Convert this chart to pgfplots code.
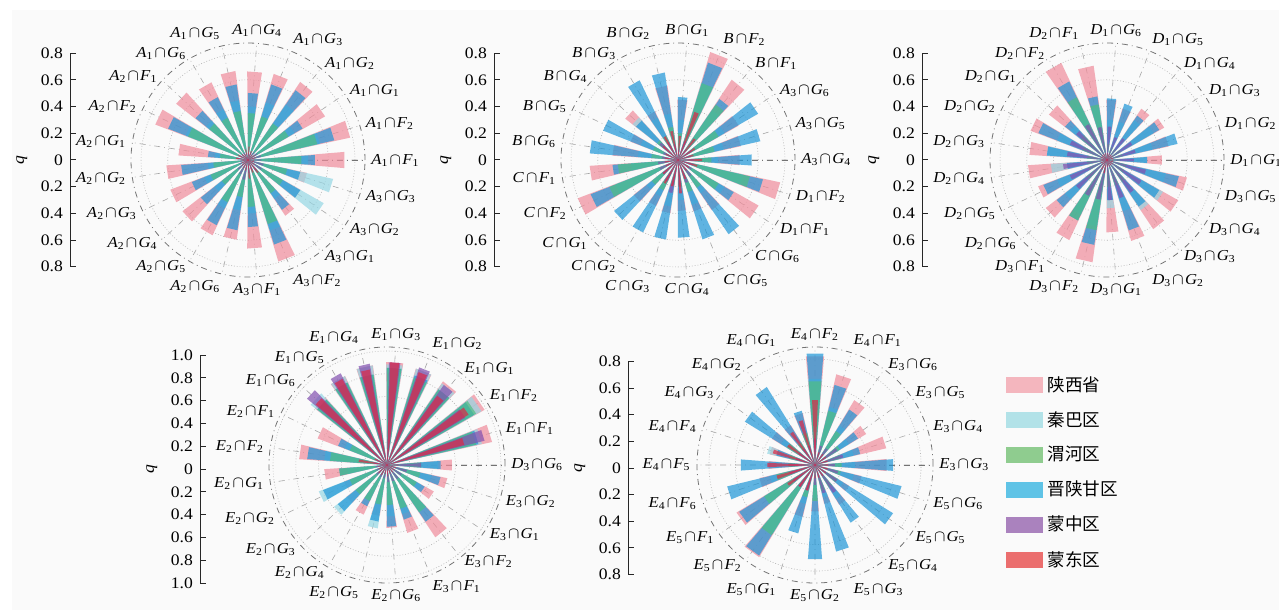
\documentclass[border=0pt]{standalone}
\usepackage{pgfplots}
\pgfplotsset{compat=1.18}
\usepackage{pgfplotstable}
\usepgfplotslibrary{polar}
\usepackage{fontspec}
\setmainfont[FakeStretch=1.1]{Liberation Serif}
\newfontfamily\cjk{Noto Sans CJK SC}

\definecolor{cP}{RGB}{240,140,155}
\definecolor{cLC}{RGB}{150,215,228}
\definecolor{cG}{RGB}{80,190,130}
\definecolor{cB}{RGB}{30,150,215}
\definecolor{cPu}{RGB}{130,80,175}
\definecolor{cR}{RGB}{220,40,70}
\definecolor{lP}{RGB}{244,182,190}
\definecolor{lLC}{RGB}{178,226,232}
\definecolor{lG}{RGB}{143,204,143}
\definecolor{lB}{RGB}{95,195,230}
\definecolor{lPu}{RGB}{170,130,190}
\definecolor{lR}{RGB}{235,110,110}
\definecolor{bgc}{RGB}{250,250,250}

\newcommand\lb[4]{\textit{#1}\textsubscript{#2}\kern0.08em$\cap$\kern0.08em\textit{#3}\textsubscript{#4}}
\def\angA{0,17.143,34.286,51.429,68.571,85.714,102.857,120,137.143,154.286,171.429,188.571,205.714,222.857,240,257.143,274.286,291.429,308.571,325.714,342.857}
\def\angB{0,18,36,54,72,90,108,126,144,162,180,198,216,234,252,270,288,306,324,342}

% anchor of a category label from its angle
\newcommand\setanch[1]{%
  \pgfkeys{/pgf/fpu=false}%
  \pgfmathtruncatemacro\hx{cos(#1)>0.1 ? 1 : (cos(#1)<-0.1 ? 2 : 0)}%
  \pgfmathtruncatemacro\vy{sin(#1)>0.9 ? 1 : (sin(#1)<-0.9 ? 2 : 0)}%
  \ifcase\vy\space
    \ifcase\hx\space \gdef\myanch{center}\or \gdef\myanch{west}\or \gdef\myanch{east}\fi
  \or
    \ifcase\hx\space \gdef\myanch{south}\or \gdef\myanch{south west}\or \gdef\myanch{south east}\fi
  \or
    \ifcase\hx\space \gdef\myanch{north}\or \gdef\myanch{north west}\or \gdef\myanch{north east}\fi
  \fi}

% one bar = a thin sector from the centre to the data point
\pgfdeclareplotmark{empty}{}
\newcommand\drawwedge[3]{%
  \pgfscope
  \pgfkeys{/pgf/fpu=false}%
  \pgftransformrotate{\vAng}%
  \pgfpathmoveto{\pgfpoint{-\vRad*\runit pt}{0pt}}%
  \pgfpathlineto{\pgfpoint{0pt}{\vRad*\runit*#3 pt}}%
  \pgfpathlineto{\pgfpoint{0pt}{-\vRad*\runit*#3 pt}}%
  \pgfpathclose
  \pgfsetfillcolor{#1}\pgfsetfillopacity{#2}%
  \pgfusepath{fill}%
  \endpgfscope}

\pgfplotstableread{
a P LC G B Pu R
0 0.72 0.45 0.40 0.50 0.10 0.05
17.143 0.78 0.55 0.53 0.66 0.10 0.06
34.286 0.66 0.40 0.35 0.47 0.08 0.06
51.429 0.70 0.50 0.33 0.63 0.07 0.05
68.571 0.67 0.45 0.34 0.59 0.06 0.07
85.714 0.66 0.40 0.35 0.50 0.05 0.10
102.857 0.67 0.45 0.37 0.57 0.05 0.08
120 0.64 0.42 0.35 0.52 0.06 0.05
137.143 0.68 0.40 0.37 0.50 0.06 0.06
154.286 0.74 0.50 0.48 0.64 0.07 0.08
171.429 0.52 0.25 0.21 0.30 0.08 0.09
188.571 0.61 0.30 0.26 0.50 0.06 0.05
205.714 0.62 0.35 0.30 0.45 0.07 0.05
222.857 0.62 0.32 0.25 0.45 0.10 0.06
240 0.62 0.40 0.35 0.54 0.12 0.07
257.143 0.60 0.38 0.28 0.53 0.15 0.08
274.286 0.66 0.40 0.35 0.50 0.10 0.14
291.429 0.79 0.55 0.50 0.66 0.08 0.10
308.571 0.50 0.35 0.30 0.45 0.10 0.12
325.714 0.45 0.65 0.30 0.45 0.12 0.06
342.857 0.45 0.65 0.30 0.40 0.12 0.05
}\tA

\pgfplotstableread{
a P LC G B Pu R
0 0.46 0.30 0.25 0.55 0.12 0.18
17.143 0.48 0.35 0.28 0.63 0.10 0.12
34.286 0.52 0.40 0.35 0.69 0.12 0.15
51.429 0.72 0.45 0.50 0.55 0.10 0.20
68.571 0.84 0.60 0.60 0.76 0.15 0.38
85.714 0.45 0.30 0.20 0.47 0.08 0.18
102.857 0.56 0.35 0.25 0.66 0.12 0.22
120 0.40 0.35 0.20 0.66 0.15 0.20
137.143 0.50 0.43 0.20 0.40 0.18 0.15
154.286 0.38 0.30 0.20 0.60 0.12 0.10
171.429 0.49 0.30 0.20 0.66 0.12 0.10
188.571 0.66 0.35 0.45 0.49 0.15 0.10
205.714 0.80 0.50 0.55 0.70 0.15 0.10
222.857 0.42 0.30 0.25 0.61 0.15 0.15
240 0.38 0.30 0.25 0.60 0.18 0.20
257.143 0.40 0.35 0.20 0.60 0.25 0.20
274.286 0.38 0.30 0.20 0.58 0.20 0.25
291.429 0.40 0.35 0.25 0.62 0.18 0.15
308.571 0.45 0.30 0.25 0.67 0.15 0.10
325.714 0.69 0.40 0.35 0.48 0.12 0.10
342.857 0.78 0.50 0.55 0.65 0.12 0.15
}\tB

\pgfplotstableread{
a P LC G B Pu R
0 0.41 0.30 0.10 0.30 0.20 0.05
17.143 0.47 0.35 0.12 0.54 0.22 0.05
34.286 0.49 0.40 0.12 0.45 0.22 0.05
51.429 0.46 0.36 0.10 0.40 0.20 0.05
68.571 0.40 0.30 0.10 0.44 0.18 0.05
85.714 0.45 0.30 0.12 0.46 0.25 0.05
102.857 0.71 0.40 0.42 0.48 0.25 0.05
120 0.80 0.45 0.52 0.65 0.30 0.05
137.143 0.55 0.35 0.25 0.40 0.30 0.05
154.286 0.61 0.40 0.20 0.55 0.30 0.05
171.429 0.58 0.45 0.15 0.45 0.30 0.05
188.571 0.59 0.42 0.15 0.30 0.33 0.05
205.714 0.55 0.40 0.15 0.51 0.30 0.05
222.857 0.58 0.40 0.20 0.48 0.30 0.05
240 0.66 0.45 0.50 0.50 0.30 0.08
257.143 0.77 0.50 0.53 0.64 0.30 0.10
274.286 0.54 0.36 0.20 0.30 0.30 0.05
291.429 0.63 0.40 0.20 0.55 0.30 0.05
308.571 0.62 0.45 0.20 0.42 0.30 0.05
325.714 0.61 0.48 0.15 0.45 0.30 0.05
342.857 0.61 0.45 0.15 0.55 0.30 0.05
}\tC

\pgfplotstableread{
a P LC G B Pu R
0 0.57 0.45 0.30 0.47 0.30 0.10
17.143 0.94 0.85 0.80 0.82 0.88 0.70
34.286 0.98 0.95 0.90 0.88 0.80 0.84
51.429 0.88 0.86 0.80 0.80 0.86 0.75
68.571 0.88 0.88 0.80 0.82 0.90 0.86
85.714 0.90 0.88 0.85 0.85 0.90 0.90
102.857 0.88 0.88 0.80 0.80 0.90 0.85
120 0.86 0.86 0.80 0.80 0.90 0.85
137.143 0.80 0.85 0.78 0.78 0.91 0.82
154.286 0.65 0.40 0.35 0.46 0.10 0.12
171.429 0.77 0.55 0.50 0.70 0.12 0.25
188.571 0.55 0.35 0.42 0.42 0.10 0.08
205.714 0.40 0.64 0.35 0.60 0.10 0.08
222.857 0.45 0.59 0.35 0.55 0.12 0.10
240 0.48 0.35 0.35 0.40 0.12 0.10
257.143 0.45 0.56 0.35 0.50 0.12 0.08
274.286 0.55 0.45 0.35 0.54 0.15 0.10
291.429 0.62 0.45 0.40 0.50 0.15 0.08
308.571 0.76 0.50 0.50 0.60 0.15 0.08
325.714 0.47 0.35 0.30 0.38 0.15 0.08
342.857 0.54 0.40 0.30 0.48 0.18 0.08
}\tD

\pgfplotstableread{
a P LC G B Pu R
0 0.54 0.30 0.20 0.59 0.15 0.10
18 0.55 0.30 0.20 0.35 0.22 0.10
36 0.45 0.30 0.22 0.38 0.20 0.10
54 0.57 0.35 0.30 0.49 0.15 0.10
72 0.70 0.45 0.42 0.62 0.15 0.10
90 0.82 0.65 0.63 0.84 0.20 0.49
108 0.40 0.30 0.25 0.42 0.15 0.35
126 0.35 0.25 0.20 0.69 0.15 0.30
144 0.38 0.30 0.25 0.62 0.15 0.25
162 0.35 0.37 0.20 0.30 0.15 0.33
180 0.35 0.30 0.20 0.56 0.20 0.36
198 0.43 0.35 0.30 0.68 0.20 0.30
216 0.69 0.45 0.45 0.67 0.20 0.25
234 0.81 0.60 0.62 0.80 0.20 0.20
252 0.40 0.30 0.25 0.53 0.20 0.20
270 0.35 0.25 0.27 0.71 0.15 0.10
288 0.30 0.25 0.20 0.67 0.22 0.10
306 0.35 0.30 0.20 0.51 0.25 0.10
324 0.30 0.25 0.20 0.69 0.20 0.10
342 0.36 0.30 0.20 0.67 0.18 0.10
}\tE

\pgfplotsset{
  pstyle/.style={scale only axis, anchor=center, clip=false,
    xmin=0, xmax=360, ymin=0,
    ytick={0.2,0.4,0.6,0.8}, yticklabels={},
    xmajorgrids, ymajorgrids,
    x grid style={black!35, dash dot, line width=0.3pt},
    y grid style={black!30, densely dotted, line width=0.3pt},
    axis line style={black!55, dash dot, line width=0.4pt},
    major tick length=0pt,
    xticklabel style={font=\fontsize{7.6}{8}\selectfont, inner sep=0pt,
      /utils/exec={\setanch{\tick}}, anchor=\myanch, shift={(\tick:3pt)}}},
  wedge/.style n args={3}{scatter, only marks, mark=empty,
    scatter/@pre marker code/.code={\drawwedge{#1}{#2}{#3}},
    scatter/@post marker code/.code={}},
  qstyle/.style={scale only axis, anchor=west, width=4pt,
    xmin=0, xmax=1, axis x line=none, axis y line*=left,
    axis line style={-, black!85, line width=0.5pt},
    tick align=inside, major tick length=3pt, tick style={black!85, line width=0.5pt},
    yticklabel style={font=\fontsize{8}{9}\selectfont},
    /pgf/number format/assume math mode=true,
    ylabel={\textit{q}}, ylabel style={font=\fontsize{8}{9}\selectfont}}
}

\newcommand\one[4]{% table, column, colour, tan(half angle)
  \addplot[wedge={#3}{0.7}{#4},
    visualization depends on={\thisrow{a} \as \vAng},
    visualization depends on={\thisrow{#2} \as \vRad}]
    table[x=a,y=#2]{#1};}
\newcommand\bars[1]{%
  \one{#1}{P}{cP}{0.084}
  \one{#1}{LC}{cLC}{0.0805}
  \one{#1}{B}{cB}{0.0752}
  \one{#1}{G}{cG}{0.0752}
  \one{#1}{Pu}{cPu}{0.0559}
  \one{#1}{R}{cR}{0.0454}
}

\begin{document}
\begin{tikzpicture}[x=0.5pt, y=-0.5pt]
\path[use as bounding box] (0,0) rectangle (1279,610);
\fill[bgc] (12,10) rectangle (1279,610);

% ---------- chart 1 ----------
\begin{axis}[qstyle, at={(35pt,-80pt)}, height=106.7pt, ymin=-0.8, ymax=0.8,
  ytick={-0.8,-0.6,-0.4,-0.2,0,0.2,0.4,0.6,0.8},
  yticklabels={0.8,0.6,0.4,0.2,0,0.2,0.4,0.6,0.8}]
\end{axis}
\def\runit{66.857}
\begin{polaraxis}[pstyle, at={(124pt,-80pt)}, width=117pt, ymax=0.875,
  xtick=\angA,
  xticklabels={{\lb{A}{1}{F}{1}},{\lb{A}{1}{F}{2}},{\lb{A}{1}{G}{1}},{\lb{A}{1}{G}{2}},{\lb{A}{1}{G}{3}},{\lb{A}{1}{G}{4}},{\lb{A}{1}{G}{5}},{\lb{A}{1}{G}{6}},{\lb{A}{2}{F}{1}},{\lb{A}{2}{F}{2}},{\lb{A}{2}{G}{1}},{\lb{A}{2}{G}{2}},{\lb{A}{2}{G}{3}},{\lb{A}{2}{G}{4}},{\lb{A}{2}{G}{5}},{\lb{A}{2}{G}{6}},{\lb{A}{3}{F}{1}},{\lb{A}{3}{F}{2}},{\lb{A}{3}{G}{1}},{\lb{A}{3}{G}{2}},{\lb{A}{3}{G}{3}}}]
\bars{\tA}
\end{polaraxis}

% ---------- chart 2 ----------
\begin{axis}[qstyle, at={(247pt,-80pt)}, height=106.7pt, ymin=-0.8, ymax=0.8,
  ytick={-0.8,-0.6,-0.4,-0.2,0,0.2,0.4,0.6,0.8},
  yticklabels={0.8,0.6,0.4,0.2,0,0.2,0.4,0.6,0.8}]
\end{axis}
\begin{polaraxis}[pstyle, at={(339pt,-80pt)}, width=117pt, ymax=0.875,
  xtick=\angA,
  xticklabels={{\lb{A}{3}{G}{4}},{\lb{A}{3}{G}{5}},{\lb{A}{3}{G}{6}},{\lb{B}{}{F}{1}},{\lb{B}{}{F}{2}},{\lb{B}{}{G}{1}},{\lb{B}{}{G}{2}},{\lb{B}{}{G}{3}},{\lb{B}{}{G}{4}},{\lb{B}{}{G}{5}},{\lb{B}{}{G}{6}},{\lb{C}{}{F}{1}},{\lb{C}{}{F}{2}},{\lb{C}{}{G}{1}},{\lb{C}{}{G}{2}},{\lb{C}{}{G}{3}},{\lb{C}{}{G}{4}},{\lb{C}{}{G}{5}},{\lb{C}{}{G}{6}},{\lb{D}{1}{F}{1}},{\lb{D}{1}{F}{2}}}]
\bars{\tB}
\end{polaraxis}

% ---------- chart 3 ----------
\begin{axis}[qstyle, at={(461pt,-80pt)}, height=106.7pt, ymin=-0.8, ymax=0.8,
  ytick={-0.8,-0.6,-0.4,-0.2,0,0.2,0.4,0.6,0.8},
  yticklabels={0.8,0.6,0.4,0.2,0,0.2,0.4,0.6,0.8}]
\end{axis}
\begin{polaraxis}[pstyle, at={(553.5pt,-80pt)}, width=117pt, ymax=0.875,
  xtick=\angA,
  xticklabels={{\lb{D}{1}{G}{1}},{\lb{D}{1}{G}{2}},{\lb{D}{1}{G}{3}},{\lb{D}{1}{G}{4}},{\lb{D}{1}{G}{5}},{\lb{D}{1}{G}{6}},{\lb{D}{2}{F}{1}},{\lb{D}{2}{F}{2}},{\lb{D}{2}{G}{1}},{\lb{D}{2}{G}{2}},{\lb{D}{2}{G}{3}},{\lb{D}{2}{G}{4}},{\lb{D}{2}{G}{5}},{\lb{D}{2}{G}{6}},{\lb{D}{3}{F}{1}},{\lb{D}{3}{F}{2}},{\lb{D}{3}{G}{1}},{\lb{D}{3}{G}{2}},{\lb{D}{3}{G}{3}},{\lb{D}{3}{G}{4}},{\lb{D}{3}{G}{5}}}]
\bars{\tC}
\end{polaraxis}

% ---------- chart 4 ----------
\begin{axis}[qstyle, at={(100pt,-234.5pt)}, height=114pt, ymin=-1, ymax=1,
  ytick={-1,-0.8,-0.6,-0.4,-0.2,0,0.2,0.4,0.6,0.8,1},
  yticklabels={1.0,0.8,0.6,0.4,0.2,0,0.2,0.4,0.6,0.8,1.0}]
\end{axis}
\def\runit{57.005}
\begin{polaraxis}[pstyle, at={(193.5pt,-232.5pt)}, width=118pt, ymax=1.035,
  ytick={0.2,0.4,0.6,0.8,1.0},
  xtick=\angA,
  xticklabels={{\lb{D}{3}{G}{6}},{\lb{E}{1}{F}{1}},{\lb{E}{1}{F}{2}},{\lb{E}{1}{G}{1}},{\lb{E}{1}{G}{2}},{\lb{E}{1}{G}{3}},{\lb{E}{1}{G}{4}},{\lb{E}{1}{G}{5}},{\lb{E}{1}{G}{6}},{\lb{E}{2}{F}{1}},{\lb{E}{2}{F}{2}},{\lb{E}{2}{G}{1}},{\lb{E}{2}{G}{2}},{\lb{E}{2}{G}{3}},{\lb{E}{2}{G}{4}},{\lb{E}{2}{G}{5}},{\lb{E}{2}{G}{6}},{\lb{E}{3}{F}{1}},{\lb{E}{3}{F}{2}},{\lb{E}{3}{G}{1}},{\lb{E}{3}{G}{2}}}]
\bars{\tD}
\end{polaraxis}

% ---------- chart 5 ----------
\begin{axis}[qstyle, at={(314pt,-234pt)}, height=106.5pt, ymin=-0.8, ymax=0.8,
  ytick={-0.8,-0.6,-0.4,-0.2,0,0.2,0.4,0.6,0.8},
  yticklabels={0.8,0.6,0.4,0.2,0,0.2,0.4,0.6,0.8}]
\end{axis}
\def\runit{66.292}
\begin{polaraxis}[pstyle, at={(407.5pt,-232.5pt)}, width=118pt, ymax=0.89,
  xtick=\angB,
  xticklabels={{\lb{E}{3}{G}{3}},{\lb{E}{3}{G}{4}},{\lb{E}{3}{G}{5}},{\lb{E}{3}{G}{6}},{\lb{E}{4}{F}{1}},{\lb{E}{4}{F}{2}},{\lb{E}{4}{G}{1}},{\lb{E}{4}{G}{2}},{\lb{E}{4}{G}{3}},{\lb{E}{4}{F}{4}},{\lb{E}{4}{F}{5}},{\lb{E}{4}{F}{6}},{\lb{E}{5}{F}{1}},{\lb{E}{5}{F}{2}},{\lb{E}{5}{G}{1}},{\lb{E}{5}{G}{2}},{\lb{E}{5}{G}{3}},{\lb{E}{5}{G}{4}},{\lb{E}{5}{G}{5}},{\lb{E}{5}{G}{6}}}]
\bars{\tE}
\end{polaraxis}

% ---------- legend ----------
\begin{axis}[at={(503pt,-186pt)}, anchor=north west, hide axis, scale only axis,
  width=10pt, height=10pt, xmin=0, xmax=1, ymin=0, ymax=1,
  legend style={at={(0,1)}, anchor=north west, draw=none, fill=none,
    font=\cjk\fontsize{8.8}{10}\selectfont, row sep=4.6pt, inner sep=0pt},
  legend cell align=left,
  legend image code/.code={\fill[#1, draw=none] (0pt,-4pt) rectangle (18.5pt,4pt);}]
\addlegendimage{fill=lP}\addlegendentry{陕西省}
\addlegendimage{fill=lLC}\addlegendentry{秦巴区}
\addlegendimage{fill=lG}\addlegendentry{渭河区}
\addlegendimage{fill=lB}\addlegendentry{晋陕甘区}
\addlegendimage{fill=lPu}\addlegendentry{蒙中区}
\addlegendimage{fill=lR}\addlegendentry{蒙东区}
\end{axis}
\end{tikzpicture}
\end{document}
